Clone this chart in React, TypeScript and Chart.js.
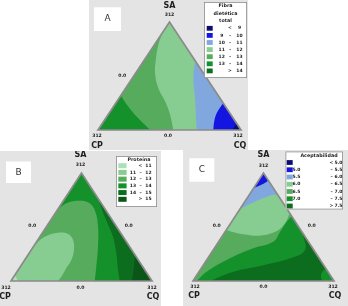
import React, { useEffect, useRef } from "react";
import { Chart, registerables } from "chart.js";

Chart.register(...registerables);

// A point of the mixture simplex: [CQ fraction, SA fraction]; CP = 1 - CQ - SA
type Pt = [number, number];

const NAVY = "#0d0d70";
const BLUE = "#1515e2";
const LBLUE = "#80a7de";
const LGREEN = "#87cd91";
const MGREEN = "#56ab5c";
const GREEN = "#15912b";
const DGREEN = "#0c6d1e";
const DDGREEN = "#0a5517";
const PALE = "#abe0b8";
const GRAY_BG = "#e4e4e4";

const vertexCP: Pt = [0, 0];
const vertexCQ: Pt = [1, 0];
const vertexSA: Pt = [0, 1];
const vertexNames = ["SA", "CP", "CQ"];
const vertexTick = "312";
const edgeTick = "0.0";

// ---------- Panel A: Fibra dietética total ----------
const fibraTitle = ["Fibra", "dietética", "total"];
const fibraLegendRows = [
  ["", "<", "9"],
  ["9", "–", "10"],
  ["10", "–", "11"],
  ["11", "–", "12"],
  ["12", "–", "13"],
  ["13", "–", "14"],
  ["", ">", "14"],
];
const fibraColors = [NAVY, BLUE, LBLUE, LGREEN, MGREEN, GREEN, DGREEN];
const fibra12: Pt[] = [[0, 0.9], [0.027, 0.79], [0.085, 0.636], [0.135, 0.528], [0.227, 0.389], [0.336, 0.266], [0.433, 0.142], [0.527, 0]];
const fibra13: Pt[] = [[0, 0.32], [0.1, 0.22], [0.225, 0.11], [0.365, 0]];
const fibra11: Pt[] = [[0.36, 0.64], [0.426, 0.481], [0.53, 0.296], [0.69, 0]];
const fibra10: Pt[] = [[0.75, 0.25], [0.752, 0.157], [0.773, 0.08], [0.806, 0]];
const fibra9: Pt[] = [[0.935, 0.065], [0.94, 0]];

// ---------- Panel B: Proteína ----------
const protTitle = ["Proteína"];
const protLegendRows = [
  ["", "<", "11"],
  ["11", "–", "12"],
  ["12", "–", "13"],
  ["13", "–", "14"],
  ["14", "–", "15"],
  ["", ">", "15"],
];
const protColors = [PALE, LGREEN, MGREEN, GREEN, DGREEN, DDGREEN];
const prot13: Pt[] = [[0, 0.657], [0.033, 0.719], [0.116, 0.743], [0.199, 0.719], [0.277, 0.642], [0.366, 0.503], [0.458, 0.318], [0.539, 0.132], [0.594, 0]];
const prot12: Pt[] = [[0, 0.333], [0.034, 0.41], [0.11, 0.447], [0.187, 0.435], [0.25, 0.38], [0.303, 0.287], [0.331, 0.194], [0.333, 0.118], [0.337, 0.04], [0.333, 0]];
const prot11: Pt[] = [[0, 0.056], [0.05, 0]];
const prot14: Pt[] = [[0.234, 0.766], [0.367, 0.595], [0.518, 0.41], [0.619, 0.256], [0.708, 0.102], [0.771, 0]];
const prot15: Pt[] = [[0.759, 0.241], [0.806, 0.132], [0.858, 0]];

// ---------- Panel C: Aceptabilidad ----------
const acepTitle = ["Aceptabilidad"];
const acepLegendRows = [
  ["", "<", "5.0"],
  ["5.0", "–", "5.5"],
  ["5.5", "–", "6.0"],
  ["6.0", "–", "6.5"],
  ["6.5", "–", "7.0"],
  ["7.0", "–", "7.5"],
  ["", ">", "7.5"],
];
const acepColors = [NAVY, BLUE, LBLUE, LGREEN, MGREEN, GREEN, DGREEN];
const acep70: Pt[] = [[0.4, 0.6], [0.39, 0.549], [0.39, 0.454], [0.3875, 0.364], [0.276, 0.303], [0.157, 0.21], [0.054, 0.086], [0.026, 0]];
const acep75: Pt[] = [[0.557, 0.442], [0.651, 0.287], [0.583, 0.21], [0.406, 0.139], [0.243, 0.086], [0.12, 0]];
const acepCorner: Pt[] = [[0.894, 0.106], [0.878, 0.102], [0.88, 0.056], [0.915, 0]];
const acep65: Pt[] = [[0, 0.47], [0.141, 0.432], [0.265, 0.42], [0.3625, 0.463], [0.385, 0.534], [0.373, 0.627]];
const acep60: Pt[] = [[0, 0.67], [0.065, 0.73], [0.151, 0.79], [0.2, 0.8]];
const acep55: Pt[] = [[0, 0.86], [0.05, 0.9], [0.07, 0.93]];

const FONT = "'DejaVu Sans', Verdana, sans-serif";
const TEXT = "#1e1e1e";

const panels: any[] = [
  {
    left: 89, top: 0, w: 159, h: 150,
    tri: { xl: 9, xr: 152, yb: 130, yt: 22 },
    base: LGREEN,
    regions: [
      { pts: fibra12, corner: vertexCP, color: MGREEN },
      { pts: fibra13, corner: vertexCP, color: GREEN },
      { pts: fibra11, corner: vertexCQ, color: LBLUE },
      { pts: fibra10, corner: vertexCQ, color: BLUE },
      { pts: fibra9, corner: vertexCQ, color: NAVY },
    ],
    letter: { text: "A", x: 5, y: 7.3, w: 27, h: 23.7 },
    legend: { x: 115, y: 2, w: 43, h: 76, title: fibraTitle, titleX: 136.5, titleY: [6, 13.5, 21], rows: fibraLegendRows, colors: fibraColors, row0: 28.3, step: 7.1, swX: 117.7, swW: 6, swH: 4.8, colL: 132.7, colD: 141, colR: 150.5 },
    labels: {
      SA: { name: [0, -16], tick: [0, -7] },
      CP: { name: [-1, 16], tick: [-1, 6] },
      CQ: { name: [-1, 16], tick: [-3, 6] },
      edgeLeft: [-11.5, 0], edgeRight: null, edgeBase: [-1.5, 6],
    },
  },
  {
    left: 0, top: 151, w: 161, h: 155,
    tri: { xl: 11, xr: 152, yb: 130, yt: 22 },
    base: GREEN,
    regions: [
      { pts: prot13, corner: vertexCP, color: MGREEN },
      { pts: prot12, corner: vertexCP, color: LGREEN },
      { pts: prot11, corner: vertexCP, color: PALE },
      { pts: prot14, corner: vertexCQ, color: DGREEN },
      { pts: prot15, corner: vertexCQ, color: DDGREEN },
    ],
    letter: { text: "B", x: 6, y: 10.5, w: 25, h: 21.5 },
    legend: { x: 116, y: 5, w: 41, h: 51, title: protTitle, titleX: 139, titleY: [8.5], rows: protLegendRows, colors: protColors, row0: 14.7, step: 6.72, swX: 118.3, swW: 8.3, swH: 5, colL: 133, colD: 140.5, colR: 148.5 },
    labels: {
      SA: { name: [-1, -18], tick: [-1, -8] },
      CP: { name: [-6, 16], tick: [-5, 7] },
      CQ: { name: [1, 16], tick: [0, 7] },
      edgeLeft: [-14, -1], edgeRight: [12, -1], edgeBase: [-1, 7],
    },
  },
  {
    left: 183, top: 150, w: 165, h: 156,
    tri: { xl: 10, xr: 151, yb: 131, yt: 23 },
    base: MGREEN,
    regions: [
      { pts: acep70, corner: vertexCQ, color: GREEN },
      { pts: acep75, corner: vertexCQ, color: DGREEN },
      { pts: acepCorner, corner: vertexCQ, color: GREEN },
      { pts: acep65, corner: vertexSA, color: LGREEN },
      { pts: acep60, corner: vertexSA, color: LBLUE },
      { pts: acep55, corner: vertexSA, color: BLUE },
    ],
    letter: { text: "C", x: 6.3, y: 8.3, w: 25, h: 23.4 },
    legend: { x: 102.5, y: 1.5, w: 57.5, h: 58, title: acepTitle, titleX: 136, titleY: [5.5], rows: acepLegendRows, colors: acepColors, row0: 12.5, step: 7.25, swX: 103.7, swW: 6, swH: 4.8, colL: 113.5, colD: 148.5, colR: 155.5 },
    labels: {
      SA: { name: [0, -18], tick: [0, -7.5] },
      CP: { name: [1, 15], tick: [2, 6] },
      CQ: { name: [1, 15], tick: [-1, 6] },
      edgeLeft: [-11.5, -1], edgeRight: [13, -1], edgeBase: [0, 6],
    },
  },
];

function TernaryPanel({ cfg }: { cfg: any }) {
  const ref = useRef<HTMLCanvasElement>(null);

  useEffect(() => {
    const t = cfg.tri;
    const pu = t.xr - t.xl;
    const pv = t.yb - t.yt;
    const xMin = -t.xl / pu;
    const xMax = (cfg.w - t.xl) / pu;
    const yMax = 1 + t.yt / pv;
    const yMin = -(cfg.h - t.yb) / pv;
    const toXY = (p: Pt) => ({ x: p[0] + p[1] / 2, y: p[1] });

    const layers: any[] = [
      { pts: [vertexCP, vertexCQ, vertexSA], color: cfg.base, smooth: false },
      ...cfg.regions.map((r: any) => ({
        pts: [...r.pts, r.pts[r.pts.length - 1], r.corner, r.corner],
        color: r.color,
        smooth: true,
      })),
    ];
    const datasets: any[] = [];
    for (let i = layers.length - 1; i >= 0; i--) {
      datasets.push({
        data: layers[i].pts.map(toXY),
        backgroundColor: layers[i].color,
        borderColor: layers[i].color,
        borderWidth: 0,
        fill: "shape",
        tension: layers[i].smooth ? 0.4 : 0,
        pointRadius: 0,
        pointHoverRadius: 0,
      });
    }

    const triPath = (chart: any) => {
      const xs = chart.scales.x;
      const ys = chart.scales.y;
      const ctx = chart.ctx;
      const pts = [vertexCP, vertexCQ, vertexSA].map((p) => {
        const q = toXY(p);
        return [xs.getPixelForValue(q.x), ys.getPixelForValue(q.y)];
      });
      ctx.beginPath();
      ctx.moveTo(pts[0][0], pts[0][1]);
      ctx.lineTo(pts[1][0], pts[1][1]);
      ctx.lineTo(pts[2][0], pts[2][1]);
      ctx.closePath();
    };

    const overlay = {
      id: "ternaryOverlay",
      beforeDatasetsDraw(chart: any) {
        chart.ctx.save();
        triPath(chart);
        chart.ctx.clip();
      },
      afterDatasetsDraw(chart: any) {
        const ctx = chart.ctx;
        ctx.restore();
        ctx.save();
        triPath(chart);
        ctx.strokeStyle = "#8b8b8b";
        ctx.lineWidth = 1.7;
        ctx.lineJoin = "miter";
        ctx.stroke();
        ctx.restore();
      },
      afterDraw(chart: any) {
        const ctx = chart.ctx;
        const xs = chart.scales.x;
        const ys = chart.scales.y;
        const pix = (p: Pt) => {
          const q = toXY(p);
          return [xs.getPixelForValue(q.x), ys.getPixelForValue(q.y)];
        };
        ctx.save();
        ctx.textAlign = "center";
        ctx.textBaseline = "middle";
        ctx.fillStyle = TEXT;

        const lab = cfg.labels;
        const verts: [string, Pt][] = [["SA", vertexSA], ["CP", vertexCP], ["CQ", vertexCQ]];
        verts.forEach(([name, v]) => {
          const [px, py] = pix(v);
          const o = lab[name];
          ctx.font = `bold 8px ${FONT}`;
          ctx.fillText(vertexNames[vertexNames.indexOf(name)], px + o.name[0], py + o.name[1]);
          ctx.font = `bold 4.6px ${FONT}`;
          ctx.fillText(vertexTick, px + o.tick[0], py + o.tick[1]);
        });
        const edges: [any, Pt][] = [
          [lab.edgeLeft, [0, 0.5]],
          [lab.edgeRight, [0.5, 0.5]],
          [lab.edgeBase, [0.5, 0]],
        ];
        ctx.font = `bold 4.6px ${FONT}`;
        edges.forEach(([o, p]) => {
          if (!o) return;
          const [px, py] = pix(p);
          ctx.fillText(edgeTick, px + o[0], py + o[1]);
        });

        // panel letter
        const L = cfg.letter;
        ctx.fillStyle = "#ffffff";
        ctx.fillRect(L.x, L.y, L.w, L.h);
        ctx.fillStyle = "#333333";
        ctx.font = `9px ${FONT}`;
        ctx.fillText(L.text, L.x + L.w / 2, L.y + L.h / 2);

        // legend
        const g = cfg.legend;
        ctx.fillStyle = "#ffffff";
        ctx.fillRect(g.x, g.y, g.w, g.h);
        ctx.strokeStyle = "#8a8a8a";
        ctx.lineWidth = 0.8;
        ctx.strokeRect(g.x + 0.4, g.y + 0.4, g.w - 0.8, g.h - 0.8);
        ctx.fillStyle = TEXT;
        ctx.font = `bold 4.8px ${FONT}`;
        g.title.forEach((s: string, i: number) => ctx.fillText(s, g.titleX, g.titleY[i]));
        ctx.font = `bold 4.5px ${FONT}`;
        g.rows.forEach((r: string[], i: number) => {
          const y = g.row0 + i * g.step;
          ctx.fillStyle = g.colors[i];
          ctx.fillRect(g.swX, y - g.swH / 2, g.swW, g.swH);
          ctx.fillStyle = TEXT;
          if (r[0]) ctx.fillText(r[0], g.colL, y);
          ctx.fillText(r[1], g.colD, y);
          ctx.fillText(r[2], g.colR, y);
        });
        ctx.restore();
      },
    };

    const chart = new Chart(ref.current as HTMLCanvasElement, {
      type: "line",
      data: { datasets },
      options: {
        animation: false,
        responsive: false,
        events: [],
        layout: { padding: 0 },
        plugins: {
          legend: { display: false },
          tooltip: { enabled: false },
          title: { display: false },
        },
        scales: {
          x: { type: "linear", display: false, min: xMin, max: xMax },
          y: { type: "linear", display: false, min: yMin, max: yMax },
        },
      },
      plugins: [overlay],
    } as any);
    return () => chart.destroy();
  }, [cfg]);

  return (
    <canvas
      ref={ref}
      width={cfg.w}
      height={cfg.h}
      style={{
        position: "absolute",
        left: cfg.left,
        top: cfg.top,
        width: cfg.w,
        height: cfg.h,
        background: GRAY_BG,
      }}
    />
  );
}

export default function App() {
  return (
    <div
      style={{
        position: "absolute",
        left: 0,
        top: 0,
        width: 348,
        height: 306,
        background: "#ffffff",
        overflow: "hidden",
      }}
    >
      {panels.map((p, i) => (
        <TernaryPanel key={i} cfg={p} />
      ))}
    </div>
  );
}
